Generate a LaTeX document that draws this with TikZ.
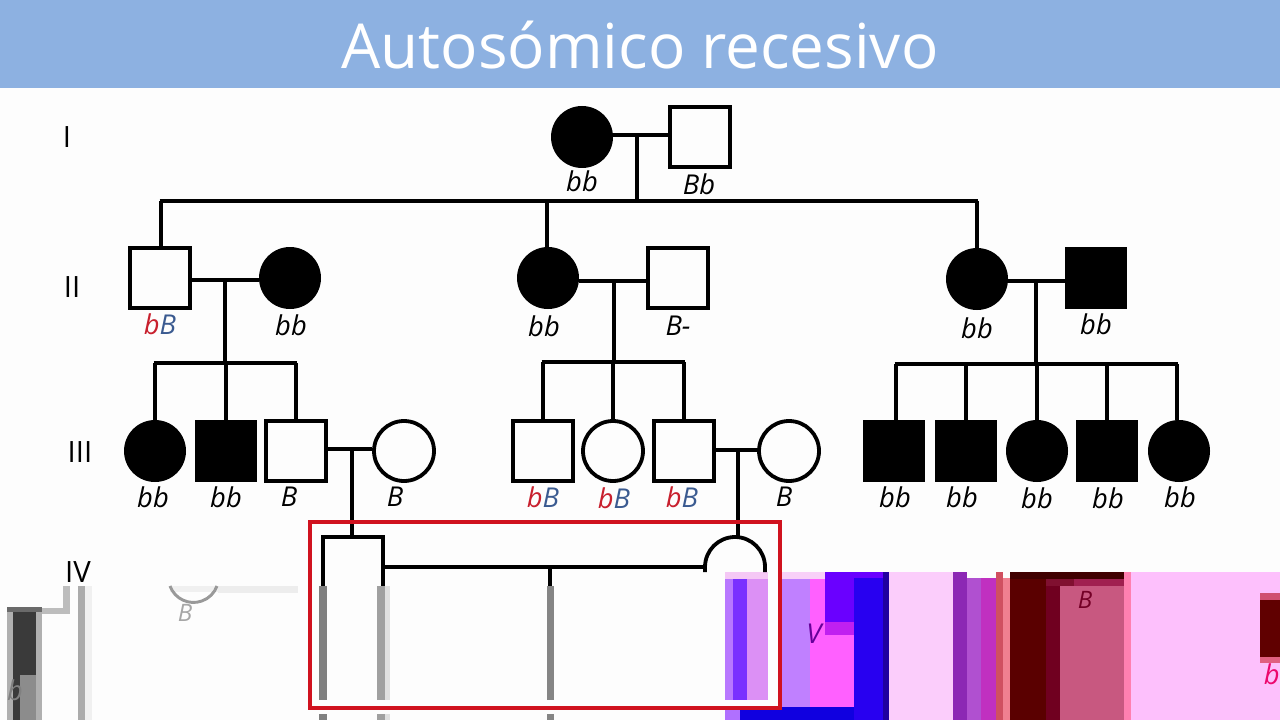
\documentclass[tikz,border=0pt]{standalone}
\usepackage{fontspec}
\setmainfont{Open Sans}
\definecolor{hdr}{HTML}{8DB1E1}
\definecolor{pagebg}{HTML}{FDFDFD}
\definecolor{redb}{HTML}{C8202E}
\definecolor{blueb}{HTML}{3A5A90}
\definecolor{redbox}{HTML}{D0121F}
\newcommand\gl[5]{\definecolor{glc}{HTML}{#5}\fill[glc] (#1,#2) rectangle (#3,#4);}
\newcommand\rb{\textcolor{redb}{b}\textcolor{blueb}{B}}
\tikzset{
  x=0.75pt,y=-0.75pt,
  lw/.style={line width=2.85pt},
  link/.style={lw,line cap=butt},
  osq/.style={draw,lw,fill=pagebg,rectangle,inner sep=0pt,minimum size=45pt},
  fsq/.style={draw=none,fill=black,rectangle,inner sep=0pt,minimum size=46.5pt},
  ocirc/.style={draw,lw,fill=pagebg,circle,inner sep=0pt,minimum size=45pt},
  fcirc/.style={draw=none,fill=black,circle,inner sep=0pt,minimum size=46.5pt},
  gt/.style={font=\fontsize{20.5pt}{23pt}\selectfont\itshape,inner sep=0pt},
  gen/.style={font=\fontsize{22pt}{24pt}\selectfont,inner sep=0pt},
}
\begin{document}
\begin{tikzpicture}
\useasboundingbox (0,0) rectangle (1280,720);
\clip (0,0) rectangle (1280,720);
\fill[pagebg] (0,0) rectangle (1280,720);
\fill[hdr] (0,0) rectangle (1280,88);
\node[text=white,font=\fontsize{46.5pt}{50pt}\selectfont,inner sep=0pt] (title) at (640,45) {Autosómico recesivo};

% generation labels
\node[gen] (g1) at (67,137) {I};
\node[gen] (g2) at (72,287) {II};
\node[gen] (g3) at (80,452) {III};
\node[gen] (g4) at (78,572) {IV};

% glitch: left grey area
\gl{42}{608}{70}{614}{BDBDBD}
\gl{63}{586}{70}{614}{BDBDBD}
\gl{7}{607}{42}{720}{B0B0B0}
\gl{13}{607}{36}{675}{3A3A3A}
\gl{7}{607}{42}{612}{6A6A6A}
\gl{13}{675}{20}{720}{3A3A3A}
\gl{20}{675}{36}{720}{8C8C8C}
\node[gt,text=gray] (gb1) at (15,690) {b};
\gl{78}{586}{85}{720}{ABABAB}
\gl{85}{586}{92}{720}{F0F0F0}
\gl{218}{586}{298}{593}{EDEDED}
\gl{170}{586}{218}{592}{F0F0F0}
\draw[line width=2.2pt,color=gray!80] (170,586) arc[start angle=160,end angle=20,radius=25];
\node[gt,text=gray!70,font=\fontsize{18pt}{20pt}\selectfont\itshape] (gb2) at (185,613) {B};

% glitch: right colour area
\gl{725}{572}{768}{579}{F5C8F5}
\gl{725}{579}{733}{700}{B878FF}
\gl{733}{579}{747}{700}{7A30FF}
\gl{747}{579}{768}{700}{DC90F5}
\gl{725}{707}{740}{720}{B070FF}
\gl{740}{707}{782}{720}{1000E0}
\gl{782}{572}{825}{579}{F8D0F8}
\gl{782}{579}{810}{707}{C080FF}
\gl{810}{579}{854}{707}{FF60FF}
\gl{825}{572}{854}{622}{6A00FF}
\gl{825}{622}{854}{635}{C020F0}
\gl{854}{572}{889}{720}{2800F0}
\gl{854}{572}{889}{578}{6A00FF}
\gl{883}{572}{889}{720}{2000A0}
\gl{782}{707}{854}{720}{1000E0}
\node[gt,text=violet!80!blue] (gv) at (814,634) {V};
\gl{889}{572}{953}{720}{FBCDFB}
\gl{953}{572}{967}{720}{8C28B4}
\gl{967}{578}{981}{720}{B050D0}
\gl{981}{578}{996}{720}{C030C0}
\gl{996}{572}{1003}{720}{D05060}
\gl{1003}{578}{1010}{720}{F08090}
\gl{1010}{572}{1046}{720}{5A0000}
\gl{1046}{579}{1060}{720}{700020}
\gl{1060}{586}{1124}{720}{C85880}
\gl{1046}{579}{1124}{586}{801030}
\gl{1074}{579}{1124}{586}{A02050}
\gl{1010}{572}{1124}{579}{400000}
\gl{1124}{572}{1131}{720}{FF80B0}
\gl{1131}{572}{1280}{720}{FDC0FC}
\gl{1260}{593}{1280}{600}{D05070}
\gl{1260}{600}{1280}{657}{600000}
\gl{1260}{657}{1280}{663}{E06080}
\node[gt,text=black!40!purple,font=\fontsize{18pt}{20pt}\selectfont\itshape] (gb3) at (1085,600) {B};
\node[gt,text=magenta!70!red,anchor=east] (gb4) at (1280,674) {b};

% generation I
\node[fcirc] (a1) at (582,137) {};
\node[osq] (a2) at (700,137) {};
\coordinate (ja) at (637,135);
\coordinate (ha) at (637,201);
\draw[link] (a1.east |- ja) -- (a2.west |- ja);
\draw[link] (ja) -- (ha);

% generation II
\node[osq] (b1) at (160,278) {};
\node[fcirc] (b2) at (290,278) {};
\node[fcirc] (b3) at (548,278) {};
\node[osq] (b4) at (678,278) {};
\node[fcirc] (b5) at (977,279) {};
\node[fsq] (b6) at (1096,278) {};
\coordinate (ha1) at (161,201);
\coordinate (ha2) at (547,201);
\draw[link] (ha1) -- (ha1 |- b1.north);
\draw[link] (ha2) -- (ha2 |- b3.north);
\draw[link] (b5.north |- ha) -- (b5.north);
\draw[link] ([xshift=-1pt]ha1) -- ([xshift=1pt]b5.north |- ha);

\coordinate (jb1) at (225,280);
\coordinate (jb2) at (614,281);
\coordinate (jb3) at (1036,281);
\draw[link] (b1.east |- jb1) -- (b2.west |- jb1);
\draw[link] (b3.east |- jb2) -- (b4.west |- jb2);
\draw[link] (b5.east |- jb3) -- (b6.west |- jb3);

% generation III
\node[fcirc] (c1) at (155,451) {};
\node[fsq] (c2) at (226,451) {};
\node[osq] (c3) at (296,451) {};
\node[ocirc] (c4) at (404,451) {};
\node[osq] (c5) at (543,451) {};
\node[ocirc] (c6) at (613,451) {};
\node[osq] (c7) at (684,451) {};
\node[ocirc] (c8) at (789,451) {};
\node[fsq] (c9) at (894,451) {};
\node[fsq] (c10) at (966,451) {};
\node[fcirc] (c11) at (1037,451) {};
\node[fsq] (c12) at (1107,451) {};
\node[fcirc] (c13) at (1179,451) {};

\coordinate (hb1) at (225,363);
\coordinate (hb2) at (614,362);
\coordinate (hb3) at (1036,364);
\draw[link] (jb1) -- (hb1);
\draw[link] (jb2) -- (hb2);
\draw[link] (jb3) -- (hb3);
\draw[link] ([xshift=-1pt]c1.north |- hb1) -- ([xshift=1pt]c3.north |- hb1);
\draw[link] ([xshift=-1pt]c5.north |- hb2) -- ([xshift=1pt]c7.north |- hb2);
\coordinate (d9) at (896,364);
\coordinate (d13) at (1177,364);
\draw[link] ([xshift=-1pt]d9) -- ([xshift=1pt]d13);
\draw[link] (c1.north |- hb1) -- (c1.north);
\draw[link] (c2.north |- hb1) -- (c2.north);
\draw[link] (c3.north |- hb1) -- (c3.north);
\draw[link] (c5.north |- hb2) -- (c5.north);
\draw[link] (c6.north |- hb2) -- (c6.north);
\draw[link] (c7.north |- hb2) -- (c7.north);
\draw[link] (d9) -- (d9 |- c9.north);
\draw[link] (c10.north |- hb3) -- (c10.north);
\draw[link] (c11.north |- hb3) -- (c11.north);
\draw[link] (c12.north |- hb3) -- (c12.north);
\draw[link] (d13) -- (d13 |- c13.north);

\coordinate (jc1) at (352,449);
\coordinate (jc2) at (738,450);
\draw[link] (c3.east |- jc1) -- (c4.west |- jc1);
\draw[link] (c7.east |- jc2) -- (c8.west |- jc2);

% generation IV (partly shown)
\coordinate (d1nw) at (323,537);
\coordinate (d1ne) at (383,537);
\coordinate (d1sw) at (323,586);
\coordinate (d1se) at (383,586);
\coordinate (d2w) at (705,572);
\coordinate (d2e) at (765,572);
\coordinate (jd) at (550,567);
\coordinate (jds) at (550,586);
\draw[link] (jc1) -- (jc1 |- d1nw);
\draw[link] (jc2) -- (jc2 |- d1nw);
\draw[lw,line join=miter] (d1sw) -- (d1nw) -- (d1ne) -- (d1se);
\draw[lw] (d2w) -- (705,567) arc[start angle=180,end angle=360,radius=30] -- (d2e);
\draw[link] (d1ne |- jd) -- (705,567);
\draw[link] (jd) -- (jds);

% greyed bars
\gl{319}{586}{327}{700}{808080}
\gl{319}{714}{327}{720}{808080}
\gl{377}{586}{385}{700}{A0A0A0}
\gl{385}{586}{390}{700}{E0E0E0}
\gl{377}{714}{385}{720}{A0A0A0}
\gl{385}{714}{390}{720}{E0E0E0}
\gl{547}{586}{554}{700}{858585}
\gl{547}{714}{554}{720}{858585}

% red frame
\draw[redbox,line width=3pt] (310,522) rectangle (780,708);

% genotypes
\node[gt] (la1) at (582,181) {bb};
\node[gt] (la2) at (699,184) {Bb};
\node[gt] (lb1) at (160,324) {\rb};
\node[gt] (lb2) at (291,325) {bb};
\node[gt] (lb3) at (544,326) {bb};
\node[gt] (lb4) at (678,326) {B-};
\node[gt] (lb5) at (977,328) {bb};
\node[gt] (lb6) at (1096,324) {bb};
\node[gt] (lc1) at (153,497) {bb};
\node[gt] (lc2) at (226,497) {bb};
\node[gt] (lc3) at (289,497) {B};
\node[gt] (lc4) at (395,497) {B};
\node[gt] (lc5) at (543,497) {\rb};
\node[gt] (lc6) at (614,498) {\rb};
\node[gt] (lc7) at (682,497) {\rb};
\node[gt] (lc8) at (784,497) {B};
\node[gt] (lc9) at (895,497) {bb};
\node[gt] (lc10) at (962,497) {bb};
\node[gt] (lc11) at (1037,498) {bb};
\node[gt] (lc12) at (1108,498) {bb};
\node[gt] (lc13) at (1180,497) {bb};
\end{tikzpicture}
\end{document}
